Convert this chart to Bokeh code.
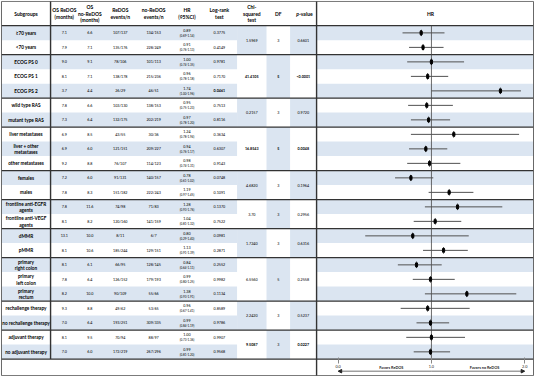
import numpy as np
from bokeh.plotting import figure
from bokeh.models import (Range1d, LinearAxis, FixedTicker, ColumnDataSource, Arrow,
                          NormalHead, PrintfTickFormatter)
from bokeh.core.properties import value
from bokeh.embed import file_html
from bokeh.resources import INLINE

# ---------------- data ----------------
subgroups = ["≥70 years", "<70 years", "ECOG PS 0", "ECOG PS 1", "ECOG PS 2",
             "wild type RAS", "mutant type RAS", "liver metastases",
             "liver + other\nmetastases", "other metastases", "females", "males",
             "frontline anti-EGFR\nagents", "frontline anti-VEGF\nagents", "dMMR", "pMMR",
             "primary\nright colon", "primary\nleft colon", "primary\nrectum",
             "rechallenge therapy", "no rechallenge therapy", "adjuvant therapy",
             "no adjuvant therapy"]
os_redos = ["7.1", "7.9", "9.0", "8.1", "3.7", "7.8", "7.3", "6.9", "6.9", "9.2", "7.2", "7.8",
            "7.8", "8.1", "13.1", "8.1", "8.1", "7.8", "8.2", "9.3", "7.0", "8.1", "7.0"]
os_no_redos = ["6.6", "7.1", "9.1", "7.1", "4.4", "6.6", "6.4", "8.5", "6.0", "8.8", "6.0", "8.3",
               "11.6", "8.2", "10.0", "10.6", "6.1", "6.4", "10.0", "8.8", "6.4", "9.5", "6.0"]
redos_events = ["107/137", "135/176", "78/106", "138/178", "26/29", "103/130", "132/175",
                "43/55", "121/151", "76/107", "91/131", "151/182", "74/98", "120/160", "8/11",
                "185/244", "66/95", "126/152", "90/109", "49/62", "193/251", "70/94", "172/219"]
no_redos_events = ["134/153", "228/249", "101/113", "215/236", "46/51", "138/153", "202/219",
                   "30/36", "209/227", "114/123", "140/157", "222/243", "71/83", "141/159", "6/7",
                   "129/151", "128/145", "179/193", "55/66", "53/65", "309/335", "88/97", "267/296"]
hr = [0.89, 0.91, 1.00, 0.96, 1.74, 0.95, 0.97, 1.24, 0.94, 0.98, 0.78, 1.19,
      1.28, 1.04, 0.80, 1.13, 0.84, 0.99, 1.38, 0.96, 0.99, 1.00, 0.99]
ci_low = [0.69, 0.76, 0.74, 0.78, 1.00, 0.75, 0.78, 0.78, 0.76, 0.74, 0.61, 0.97,
          0.93, 0.81, 0.29, 0.91, 0.64, 0.80, 0.93, 0.67, 0.84, 0.73, 0.81]
ci_high = [1.14, 1.13, 1.35, 1.18, 1.96, 1.23, 1.20, 1.94, 1.17, 1.31, 1.02, 1.45,
           1.76, 1.32, 1.40, 1.39, 1.11, 1.25, 1.91, 1.41, 1.19, 1.36, 1.20]
logrank = ["0.3775", "0.4149", "0.9781", "0.7170", "0.0461", "0.7513", "0.8116", "0.3634",
           "0.6307", "0.9143", "0.0748", "0.1091", "0.1370", "0.7522", "0.0981", "0.2871",
           "0.2552", "0.9982", "0.1134", "0.8589", "0.9786", "0.9907", "0.9568"]
logrank_bold = [4]

group_sizes = [2, 3, 2, 3, 2, 2, 2, 3, 2, 2]
chi_squared = ["1.5969", "41.4105", "0.2157", "16.8543", "4.6820", "3.70", "1.7240",
               "6.5560", "2.2420", "9.5087"]
dfree = ["3", "5", "3", "5", "3", "3", "3", "5", "3", "3"]
p_values = ["0.6601", "<0.0001", "0.9720", "0.0048", "0.1964", "0.2956", "0.6316",
            "0.2558", "0.5237", "0.0227"]
bold_groups = [1, 3, 9]
bold_df_groups = [1, 3]

header_labels = ["Subgroups", "OS ReDOS\n(months)", "OS\nno-ReDOS\n(months)", "ReDOS\nevents/n",
                 "no-ReDOS\nevents/n", "HR\n(95%CI)", "Log-rank\ntest", "Chi-\nsquared\ntest",
                 "DF", "HR"]
axis_ticks = [0, 1, 2]
favor_labels = ["Favors ReDOS", "Favors no ReDOS"]
favor_pos = [0.57, 1.57]

# ---------------- layout (reference pixel units) ----------------
ROW0, ROWH = 35.5, 15.0
def ry(px):
    return (px - ROW0) / ROWH

X_LEFT, X_SUB, X_CHI0, X_DF0, X_P0, X_FOREST, X_RIGHT = 4, 54, 244, 274, 298, 325, 546
COLS = dict(sub=29, os1=68, os2=94, ev1=125, ev2=159, hr=193, lr=226, chi=259, df=286, p=311.5)
header_x = [29, 68, 94, 125, 159, 193, 226, 259, 286, 441]
HR0_PX, HR_UNIT = 347, 95
VIEW_X = (3, 547)
VIEW_Y = (2, 391)
Y_TOP, Y_HEAD, Y_BOT, Y_FRAME_BOT = ry(3), -0.5, len(subgroups) - 0.5, ry(390)

FONT = value("Lato")
HEAD_FS, LABEL_FS, VAL_FS, CI_FS, AX_FS = "5px", "4.7px", "3.7px", "3px", "3.8px"
SHADE = "#dbe5f1"
DARK = "#333333"
TXT = "#000000"

W, H = 534, 376
p = figure(width=W, height=H, output_backend="svg", toolbar_location=None,
           x_range=Range1d(*VIEW_X), y_range=Range1d(ry(VIEW_Y[1]), ry(VIEW_Y[0])),
           x_axis_type=None, y_axis_type=None, min_border=0, outline_line_color=None,
           background_fill_color="white", border_fill_color="white")
p.extra_x_ranges = {"hr": Range1d((VIEW_X[0] - HR0_PX) / HR_UNIT, (VIEW_X[1] - HR0_PX) / HR_UNIT)}

n = len(subgroups)
rows = list(range(n))

# row shading
sh = [i for i in rows if i % 2 == 0]
for (l, r) in [(X_LEFT, X_CHI0), (X_FOREST, X_RIGHT)]:
    p.quad(left=l, right=r, top=[i - 0.5 for i in sh], bottom=[i + 0.5 for i in sh],
           fill_color=SHADE, line_color=None)

# merged group cells
starts = np.concatenate([[0], np.cumsum(group_sizes)[:-1]])
g_top = [s - 0.5 for s in starts]
g_bot = [s + g - 0.5 for s, g in zip(starts, group_sizes)]
g_mid = [(a + b) / 2 for a, b in zip(g_top, g_bot)]
ng = len(group_sizes)
even = [g for g in range(ng) if g % 2 == 0]
odd = [g for g in range(ng) if g % 2 == 1]
for (l, r, gs) in [(X_CHI0, X_DF0, even), (X_DF0, X_P0, odd), (X_P0, X_FOREST, even)]:
    p.quad(left=l, right=r, top=[g_top[g] for g in gs], bottom=[g_bot[g] for g in gs],
           fill_color=SHADE, line_color=None)

# horizontal lines
h_y = [Y_HEAD] + [b for b in g_bot]
p.segment(x0=X_LEFT, x1=X_RIGHT, y0=h_y, y1=h_y, line_color=DARK, line_width=1.4)
p.segment(x0=X_LEFT, x1=X_RIGHT, y0=[Y_TOP, Y_FRAME_BOT], y1=[Y_TOP, Y_FRAME_BOT],
          line_color="#666666", line_width=0.9)
# vertical lines
p.segment(x0=[X_SUB], x1=[X_SUB], y0=Y_TOP, y1=Y_BOT, line_color=DARK, line_width=1.4)
p.segment(x0=[X_FOREST], x1=[X_FOREST], y0=Y_TOP, y1=Y_FRAME_BOT, line_color=DARK, line_width=1.4)
p.segment(x0=[X_LEFT, X_RIGHT], x1=[X_LEFT, X_RIGHT], y0=Y_TOP, y1=Y_FRAME_BOT,
          line_color="#555555", line_width=0.9)

# forest plot
p.segment(x0=[1], x1=[1], y0=Y_HEAD, y1=Y_BOT, x_range_name="hr", line_color="#444444", line_width=0.8)
p.segment(x0=ci_low, x1=ci_high, y0=rows, y1=rows, x_range_name="hr",
          line_color="#505050", line_width=1)
p.ellipse(x=hr, y=rows, width=2.4, height=5.4, width_units="screen", height_units="screen",
          x_range_name="hr", fill_color="black", line_color="black")

# header text
hy = (Y_TOP + Y_HEAD) / 2
p.text(x=header_x, y=[hy] * len(header_x), text=header_labels, text_align="center",
       text_baseline="middle", text_font=FONT, text_font_size=value(HEAD_FS),
       text_font_style="bold", text_color=TXT, text_line_height=1.15)
p.text(x=[COLS["p"] - 4.5], y=[hy], text=["p"], text_align="right", text_baseline="middle",
       text_font=FONT, text_font_size=value(HEAD_FS), text_font_style="bold italic", text_color=TXT)
p.text(x=[COLS["p"] - 4.5], y=[hy], text=["-value"], text_align="left", text_baseline="middle",
       text_font=FONT, text_font_size=value(HEAD_FS), text_font_style="bold", text_color=TXT)

# row texts
p.text(x=COLS["sub"], y=rows, text=subgroups, text_align="center", text_baseline="middle",
       text_font=FONT, text_font_size=value(LABEL_FS), text_font_style="bold",
       text_color=TXT, text_line_height=1.1)
for key, vals in [("os1", os_redos), ("os2", os_no_redos), ("ev1", redos_events), ("ev2", no_redos_events)]:
    p.text(x=COLS[key], y=rows, text=vals, text_align="center", text_baseline="middle",
           text_font=FONT, text_font_size=value(VAL_FS), text_color=TXT)
p.text(x=COLS["hr"], y=[r - 0.17 for r in rows], text=[f"{v:.2f}" for v in hr],
       text_align="center", text_baseline="middle", text_font=FONT,
       text_font_size=value(VAL_FS), text_color=TXT)
p.text(x=COLS["hr"], y=[r + 0.2 for r in rows],
       text=[f"({a:.2f}-{b:.2f})" for a, b in zip(ci_low, ci_high)],
       text_align="center", text_baseline="middle", text_font=FONT,
       text_font_size=value(CI_FS), text_color=TXT)
lr_src = ColumnDataSource(dict(y=rows, t=logrank,
                               st=["bold" if i in logrank_bold else "normal" for i in rows]))
p.text(x=COLS["lr"], y="y", text="t", text_font_style="st", source=lr_src, text_align="center",
       text_baseline="middle", text_font=FONT, text_font_size=value(VAL_FS), text_color=TXT)

gsrc = ColumnDataSource(dict(y=g_mid, chi=chi_squared, df=dfree, pv=p_values,
                             st=["bold" if g in bold_groups else "normal" for g in range(ng)],
                             dst=["bold" if g in bold_df_groups else "normal" for g in range(ng)]))
for key, col, stc in [("chi", "chi", "st"), ("df", "df", "dst"), ("p", "pv", "st")]:
    p.text(x=COLS[key], y="y", text=col, text_font_style=stc, source=gsrc, text_align="center",
           text_baseline="middle", text_font=FONT, text_font_size=value(VAL_FS), text_color=TXT)

# axis under forest
ax = LinearAxis(x_range_name="hr", fixed_location=ry(378), ticker=FixedTicker(ticks=axis_ticks),
                formatter=PrintfTickFormatter(format="%.1f"))
ax.axis_line_color = None
ax.major_tick_in = 6
ax.major_tick_out = 0
ax.major_tick_line_color = "#888888"
ax.minor_tick_line_color = None
ax.major_label_standoff = 1
ax.major_label_text_font = "Lato"
ax.major_label_text_font_size = AX_FS
ax.major_label_text_color = "#222222"
p.add_layout(ax, "below")

p.text(x=favor_pos, y=[ry(381.5)] * 2, text=favor_labels, x_range_name="hr", text_align="center",
       text_baseline="middle", text_font=FONT, text_font_size=value(AX_FS), text_font_style="bold",
       text_color="#222222")
for x0, x1 in [(1, 0), (1, 2)]:
    p.add_layout(Arrow(x_start=x0, x_end=x1, y_start=ry(385.5), y_end=ry(385.5), x_range_name="hr",
                       line_color="#333333", line_width=0.7,
                       end=NormalHead(size=3.5, fill_color="#222222", line_color="#222222")))

open("out.html", "w").write(file_html(p, INLINE))
